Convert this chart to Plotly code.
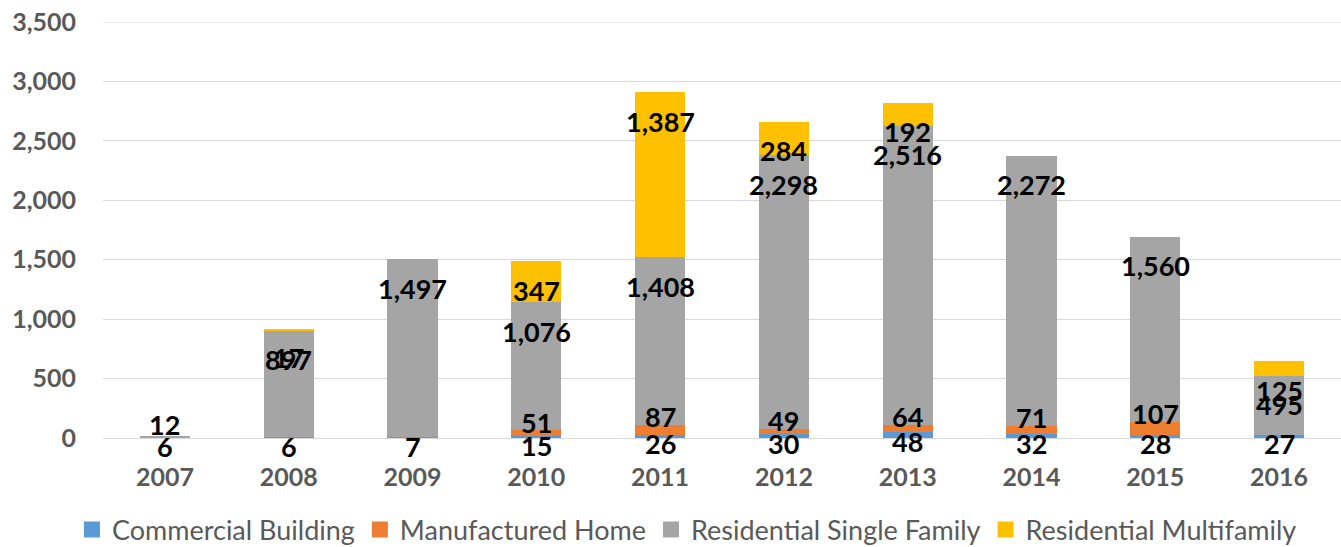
import plotly.graph_objects as go

years = ["2007", "2008", "2009", "2010", "2011", "2012", "2013", "2014", "2015", "2016"]
commercial = [6, 6, 7, 15, 26, 30, 48, 32, 28, 27]
manufactured = [0, 0, 0, 51, 87, 49, 64, 71, 107, 0]
single_family = [12, 897, 1497, 1076, 1408, 2298, 2516, 2272, 1560, 495]
multifamily = [0, 17, 0, 347, 1387, 284, 192, 0, 0, 125]

series_names = ["Commercial Building", "Manufactured Home", "Residential Single Family", "Residential Multifamily"]
series_values = [commercial, manufactured, single_family, multifamily]
colors = ["#5B9BD5", "#ED7D31", "#A5A5A5", "#FFC000"]
label_shift = [-9, 8, -29, -29]

fig = go.Figure()
for name, vals, col in zip(series_names, series_values, colors):
    fig.add_trace(go.Bar(x=years, y=vals, name=name, showlegend=False,
                         marker=dict(color=col, line=dict(width=0))))
# legend entries with larger square swatches
for name, col in zip(series_names, colors):
    fig.add_trace(go.Scatter(x=[None], y=[None], mode="markers", name=name,
                             marker=dict(symbol="square", size=16, color=col)))

annotations = []
cum = [0] * len(years)
for si, vals in enumerate(series_values):
    for i, v in enumerate(vals):
        cum[i] += v
        if v == 0:
            continue
        shift = label_shift[si]
        if si == 2 and v < 50:
            shift = 11
        annotations.append(dict(
            x=i, y=cum[i], xref="x", yref="y", text=f"{v:,}",
            showarrow=False, yanchor="middle", xanchor="center", yshift=shift,
            font=dict(family="Lato", size=27, color="#000000", weight="bold"),
        ))

fig.update_layout(
    barmode="stack",
    bargap=0.596,
    width=1341, height=547,
    margin=dict(l=103, r=0, t=22, b=109, autoexpand=False),
    plot_bgcolor="white", paper_bgcolor="white",
    annotations=annotations,
    shapes=[dict(type="line", xref="paper", yref="y", x0=0, x1=1, y0=3500, y1=3500,
                 line=dict(color="#D9D9D9", width=1), layer="below")],
    legend=dict(orientation="h", x=0.4717, xanchor="center", y=-0.221, yanchor="middle",
                traceorder="normal", itemsizing="trace",
                font=dict(family="Lato", size=27, color="#595959"), itemwidth=30),
    xaxis=dict(type="category", range=[-0.5, 9.5], showgrid=False, showline=False, ticks="",
               automargin=False,
               tickfont=dict(family="Lato", size=25, color="#595959", weight="bold"),
               ticklabelstandoff=22),
    yaxis=dict(range=[0, 3500], tickvals=[0, 500, 1000, 1500, 2000, 2500, 3000, 3500],
               tickformat=",", showgrid=True, gridcolor="#D9D9D9",
               gridwidth=1, zeroline=True, zerolinecolor="#D9D9D9", zerolinewidth=1,
               showline=False, ticks="", automargin=False,
               tickfont=dict(family="Lato", size=25, color="#595959", weight="bold"),
               ticklabelstandoff=26),
)

fig.write_html("out.html", config={"displayModeBar": False},
               post_script="document.body.style.margin='0';document.body.style.overflow='hidden';")
